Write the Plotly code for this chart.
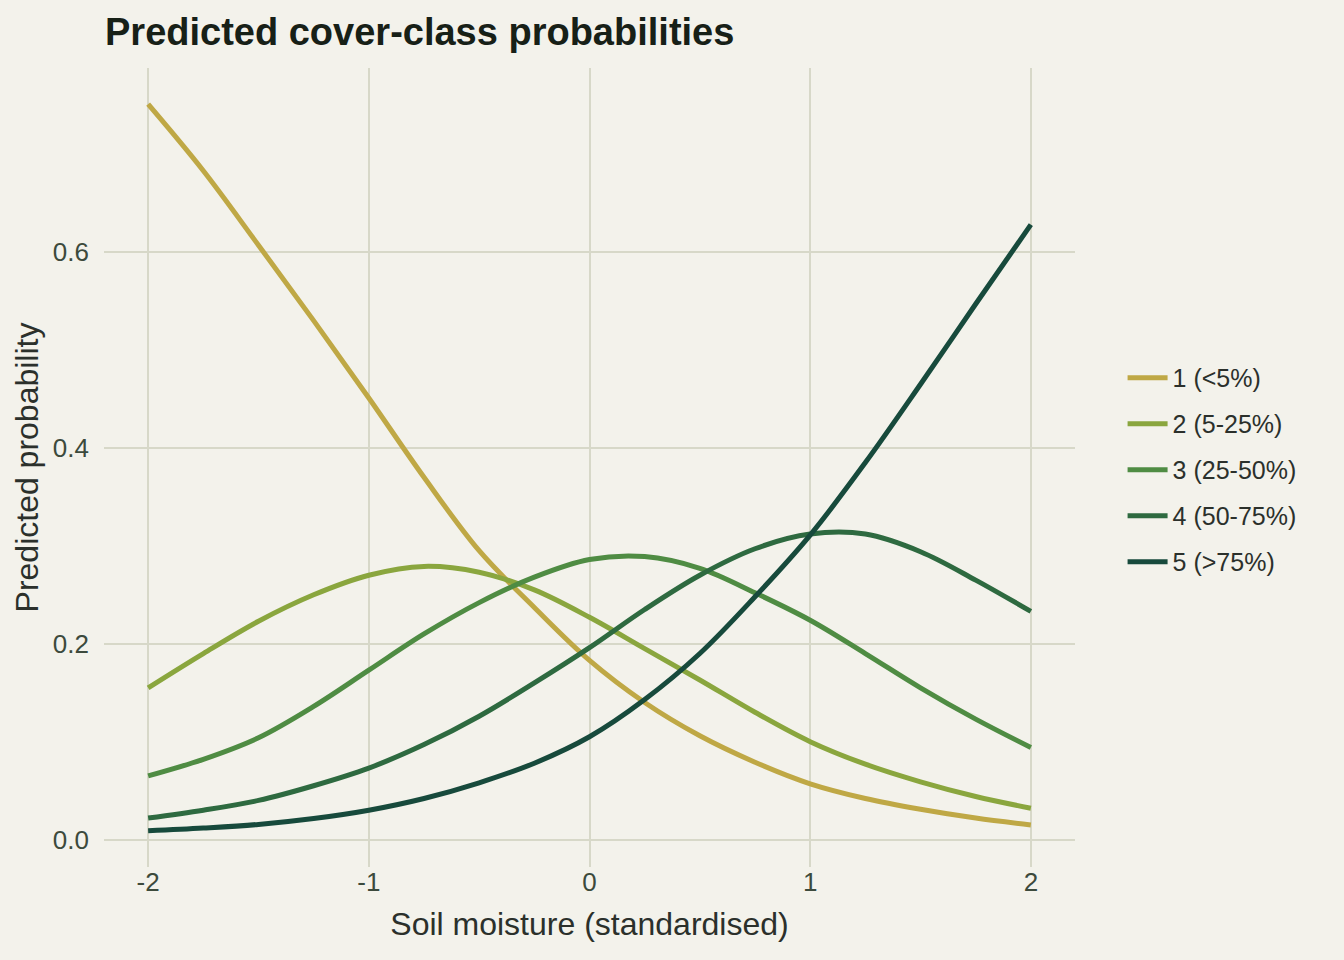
import plotly.graph_objects as go

# Soil moisture (standardised)
x = [-2.0, -1.75, -1.5, -1.25, -1.0, -0.75, -0.5, -0.25, 0.0,
     0.25, 0.5, 0.75, 1.0, 1.25, 1.5, 1.75, 2.0]

class_names = ["1 (<5%)", "2 (5-25%)", "3 (25-50%)", "4 (50-75%)", "5 (>75%)"]

p1 = [0.751, 0.683, 0.607, 0.530, 0.451, 0.370, 0.295, 0.237, 0.183,
      0.140, 0.106, 0.079, 0.057, 0.042, 0.031, 0.022, 0.015]
p2 = [0.155, 0.190, 0.223, 0.250, 0.270, 0.279, 0.273, 0.255, 0.227,
      0.195, 0.163, 0.130, 0.100, 0.077, 0.059, 0.044, 0.032]
p3 = [0.065, 0.082, 0.104, 0.136, 0.173, 0.210, 0.242, 0.268, 0.286,
      0.289, 0.277, 0.252, 0.224, 0.190, 0.155, 0.123, 0.094]
p4 = [0.022, 0.030, 0.040, 0.055, 0.073, 0.097, 0.126, 0.160, 0.196,
      0.235, 0.270, 0.297, 0.312, 0.312, 0.294, 0.265, 0.233]
p5 = [0.009, 0.0118, 0.0155, 0.0215, 0.030, 0.042, 0.058, 0.078, 0.105,
      0.143, 0.190, 0.248, 0.311, 0.385, 0.465, 0.547, 0.628]

series = [p1, p2, p3, p4, p5]
colors = ["#bfa845", "#8aa63e", "#4f8c43", "#2e6a40", "#174a3c"]

x_tick_vals = [-2, -1, 0, 1, 2]
x_tick_labels = ["-2", "-1", "0", "1", "2"]
y_tick_vals = [0.0, 0.2, 0.4, 0.6]
y_tick_labels = ["0.0", "0.2", "0.4", "0.6"]

bg = "#f3f2eb"
grid = "#d7d8c8"
font_family = "Liberation Sans, Arial, sans-serif"

fig = go.Figure()
for i, (name, vals, col) in enumerate(zip(class_names, series, colors)):
    fig.add_trace(go.Scatter(
        x=x, y=vals, mode="lines", name=name,
        line=dict(color=col, width=5, shape="spline", smoothing=1.0),
        legendgroup=str(i),
    ))

fig.update_layout(
    width=1344, height=960,
    paper_bgcolor=bg, plot_bgcolor=bg,
    margin=dict(l=104, r=269, t=68, b=93),
    font=dict(family=font_family, color="#2b302b"),
    title=dict(
        text="<b>Predicted cover-class probabilities</b>",
        x=105 / 1344, xanchor="left", xref="container",
        y=1 - 32 / 960, yanchor="middle", yref="container",
        font=dict(size=38, color="#172017"),
    ),
    showlegend=True,
    legend=dict(
        x=1.049, xanchor="left", y=0.497, yanchor="middle",
        font=dict(size=25, color="#2b302b"),
        bgcolor="rgba(0,0,0,0)",
        tracegroupgap=10.5,
        traceorder="grouped",
        itemwidth=40,
    ),
)

fig.update_xaxes(
    range=[-2.2, 2.2],
    tickvals=x_tick_vals, ticktext=x_tick_labels,
    showgrid=True, gridcolor=grid, gridwidth=1.5,
    zeroline=False, showline=False, ticks="",
    ticklabelstandoff=-3,
    tickfont=dict(size=26, color="#3c4a3c"),
    title=dict(text="Soil moisture (standardised)", font=dict(size=32, color="#2b302b"), standoff=16),
)
fig.update_yaxes(
    range=[-0.028, 0.788],
    tickvals=y_tick_vals, ticktext=y_tick_labels,
    showgrid=True, gridcolor=grid, gridwidth=1.5,
    zeroline=False, showline=False, ticks="",
    ticklabelstandoff=14,
    tickfont=dict(size=26, color="#3c4a3c"),
    title=dict(text="Predicted probability", font=dict(size=32, color="#2b302b"), standoff=4),
)

fig.write_html("out.html")
